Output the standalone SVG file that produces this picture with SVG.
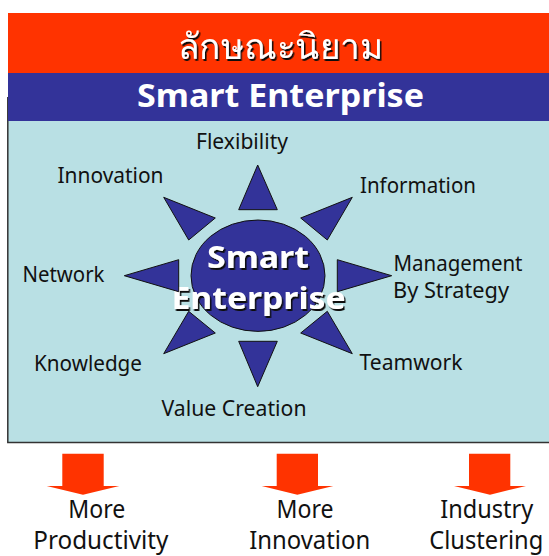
<svg xmlns="http://www.w3.org/2000/svg" width="549" height="556" viewBox="0 0 549 556">
<style>
text{font-family:"Noto Sans","DejaVu Sans",sans-serif;text-anchor:middle}
.l{font-size:21.5px;fill:#111}
.b{font-size:24.500px;fill:#111}
.t{fill:#333399;stroke:#111;stroke-width:1}
.a{fill:#ff3300}
.w{font-weight:700;fill:#fff;font-size:31px}
</style>
<defs><filter id="sh" x="-10%" y="-10%" width="120%" height="130%"><feDropShadow dx="1.500" dy="2" stdDeviation="0.300" flood-color="#111"/></filter></defs>
<rect width="549" height="556" fill="#fff"/>
<g id="panel"><rect x="8" y="121" width="541" height="321.500" fill="#b9e0e4"/><path d="M7.800 97V442.500H549" fill="none" stroke="#333" stroke-width="1.500"/></g>
<g id="title"><rect x="8" y="13" width="541" height="60" fill="#ff3300"/>
<text x="280.500" y="59" font-size="36" fill="#fff" filter="url(#sh)" textLength="205" lengthAdjust="spacingAndGlyphs">ลักษณะนิยาม</text></g>
<g id="header"><rect x="8" y="73" width="541" height="48" fill="#333399"/><text x="280.500" y="107" font-size="32" font-weight="700" fill="#fff" textLength="287" lengthAdjust="spacingAndGlyphs">Smart Enterprise</text></g>
<g id="hub"><ellipse cx="258" cy="275.700" rx="67" ry="55.700" fill="#333399" stroke="#111" stroke-width="1"/>
<g filter="url(#sh)"><text class="w" x="258" y="268" textLength="102" lengthAdjust="spacingAndGlyphs">Smart</text></g>
<g filter="url(#sh)"><text class="w" x="258.500" y="309" textLength="174" lengthAdjust="spacingAndGlyphs">Enterprise</text></g></g>
<g id="spokes">
<polygon class="t" points="257.700,165 238.700,209.700 277.300,209.700"/>
<polygon class="t" points="352.300,197.300 300.700,218 327.300,240"/>
<polygon class="t" points="391.700,275.700 337.300,259.700 337.300,291.700"/>
<polygon class="t" points="352.300,353.700 300.700,333 327.300,311.300"/>
<polygon class="t" points="257.700,386.700 238.700,341.300 277.300,341.300"/>
<polygon class="t" points="163.700,353.700 215.300,333 188.700,311.300"/>
<polygon class="t" points="124.300,275.700 178.700,259.700 178.700,291.700"/>
<polygon class="t" points="163.700,197.300 215.300,218 188.700,240"/>
</g>
<g id="n-flexibility"><text class="l" x="242" y="149" textLength="92" lengthAdjust="spacingAndGlyphs">Flexibility</text></g>
<g id="n-innovation"><text class="l" x="110.500" y="183" textLength="106" lengthAdjust="spacingAndGlyphs">Innovation</text></g>
<g id="n-information"><text class="l" x="418" y="193" textLength="116" lengthAdjust="spacingAndGlyphs">Information</text></g>
<g id="n-network"><text class="l" x="63.500" y="282" textLength="82" lengthAdjust="spacingAndGlyphs">Network</text></g>
<g id="n-management"><text class="l" x="458" y="271" textLength="129" lengthAdjust="spacingAndGlyphs">Management</text><text class="l" x="451" y="298" textLength="116" lengthAdjust="spacingAndGlyphs">By Strategy</text></g>
<g id="n-knowledge"><text class="l" x="88" y="371" textLength="108" lengthAdjust="spacingAndGlyphs">Knowledge</text></g>
<g id="n-teamwork"><text class="l" x="411" y="370" textLength="103" lengthAdjust="spacingAndGlyphs">Teamwork</text></g>
<g id="n-value"><text class="l" x="234" y="416" textLength="145" lengthAdjust="spacingAndGlyphs">Value Creation</text></g>
<g id="outcome1"><polygon class="a" points="62.300,453.700 103.700,453.700 103.700,486 119.300,486 83,494.700 46.700,486 62.300,486"/><text class="b" x="96.800" y="518" textLength="57" lengthAdjust="spacingAndGlyphs">More</text><text class="b" x="100.800" y="548.500" textLength="135" lengthAdjust="spacingAndGlyphs">Productivity</text></g>
<g id="outcome2"><polygon class="a" points="276.700,453.700 318,453.700 318,486 333.300,486 297.300,494.700 261.700,486 276.700,486"/><text class="b" x="305" y="518" textLength="57" lengthAdjust="spacingAndGlyphs">More</text><text class="b" x="309.700" y="548.500" textLength="121" lengthAdjust="spacingAndGlyphs">Innovation</text></g>
<g id="outcome3"><polygon class="a" points="469,453.700 510.300,453.700 510.300,486 526,486 490,494.700 454,486 469,486"/><text class="b" x="486.700" y="518" textLength="93" lengthAdjust="spacingAndGlyphs">Industry</text><text class="b" x="486.300" y="548.500" textLength="114" lengthAdjust="spacingAndGlyphs">Clustering</text></g>
</svg>
